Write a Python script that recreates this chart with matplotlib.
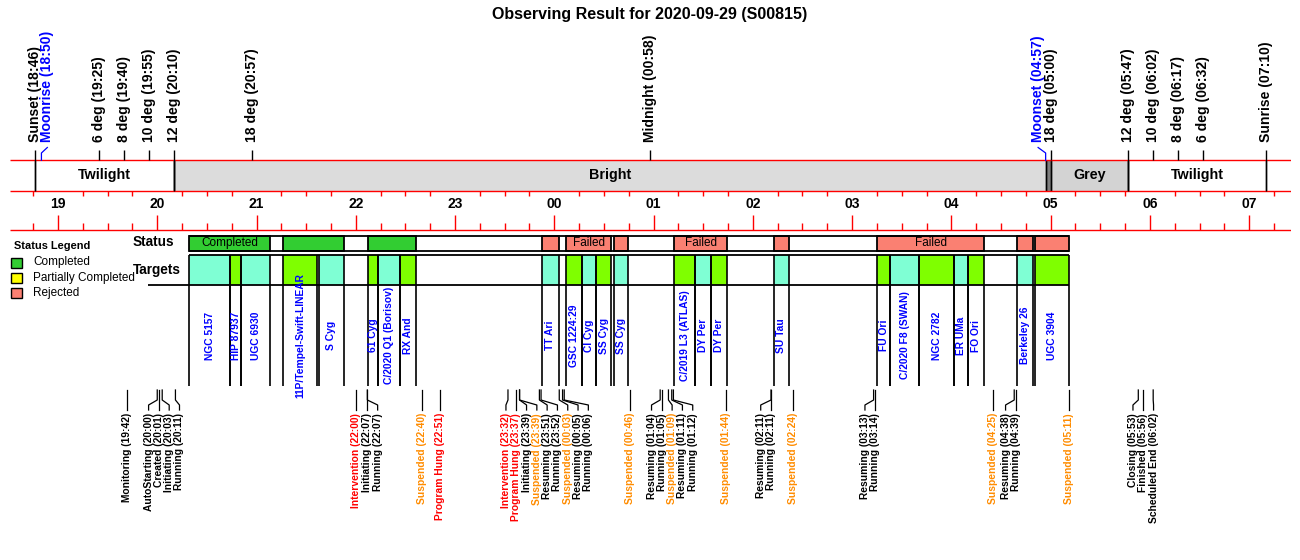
import matplotlib
matplotlib.use("Agg")
import matplotlib.pyplot as plt
import matplotlib.font_manager as fm
import numpy as np

#### data
title = "Observing Result for 2020-09-29 (S00815)"

# sun / moon events above the band
sky_names = ["Sunset", "Moonrise", "6 deg", "8 deg", "10 deg", "12 deg", "18 deg", "Midnight",
             "Moonset", "18 deg", "12 deg", "10 deg", "8 deg", "6 deg", "Sunrise"]
sky_times = ["18:46", "18:50", "19:25", "19:40", "19:55", "20:10", "20:57", "00:58",
             "04:57", "05:00", "05:47", "06:02", "06:17", "06:32", "07:10"]

# sky brightness band
band_kinds = ["Twilight", "Bright", "Dark", "Grey", "Twilight"]
band_starts = ["18:46", "20:10", "04:57", "05:00", "05:47"]
band_ends = ["20:10", "04:57", "05:00", "05:47", "07:10"]

# observing blocks (status row)
status_starts = ["20:19.4", "21:16", "22:07.3", "23:52.5", "00:07.3", "00:36", "01:12.6",
                 "02:12.5", "03:15.1", "04:39.8", "04:50.7"]
status_ends = ["21:08", "21:52.7", "22:36.3", "00:02.8", "00:34.5", "00:44.5", "01:44.4",
               "02:21.9", "04:19.8", "04:49.1", "05:11.3"]
status_results = ["Completed", "Completed", "Completed", "Failed", "Failed", "Failed", "Failed",
                  "Failed", "Failed", "Failed", "Failed"]

# targets row
target_names = ["NGC 5157", "HIP 87937", "UGC 6930", "11P/Tempel-Swift-LINEAR", "S Cyg",
                "61 Cyg", "C/2020 Q1 (Borisov)", "RX And", "TT Ari", "GSC 1224:29", "CI Cyg",
                "SS Cyg", "SS Cyg", "C/2019 L3 (ATLAS)", "DY Per", "DY Per", "SU Tau",
                "FU Ori", "C/2020 F8 (SWAN)", "NGC 2782", "ER UMa", "FO Ori", "Berkeley 26",
                "UGC 3904"]
target_starts = ["20:19.4", "20:43.8", "20:50.9", "21:16", "21:37.9", "22:07.3", "22:13.5",
                 "22:26.6", "23:52.5", "00:07.3", "00:16.7", "00:25.4", "00:36", "01:12.6",
                 "01:25", "01:35", "02:12.5", "03:15.1", "03:23", "03:40.5", "04:01.7",
                 "04:10.1", "04:39.8", "04:50.7"]
target_ends = ["20:43.8", "20:50.9", "21:08", "21:36.7", "21:52.7", "22:13.5", "22:26.6",
               "22:36.3", "00:02.8", "00:16.7", "00:25.4", "00:34.5", "00:44.5", "01:25",
               "01:35", "01:44.4", "02:21.9", "03:23", "03:40.5", "04:01.7", "04:10.1",
               "04:19.8", "04:49.1", "05:11.3"]

# system log events (bottom)
event_names = ["Monitoring", "AutoStarting", "Created", "Initiating", "Running",
               "Intervention", "Initiating", "Running", "Suspended", "Program Hung",
               "Intervention", "Program Hung", "Initiating", "Suspended", "Resuming", "Running",
               "Suspended", "Resuming", "Running", "Suspended", "Resuming", "Running",
               "Suspended", "Resuming", "Running", "Suspended", "Resuming", "Running",
               "Suspended", "Resuming", "Running", "Suspended", "Resuming", "Running",
               "Suspended", "Closing", "Finished", "Scheduled End"]
event_times = ["19:42", "20:00", "20:01", "20:03", "20:11",
               "22:00", "22:07", "22:07", "22:40", "22:51",
               "23:32", "23:37", "23:39", "23:39", "23:51", "23:52",
               "00:03", "00:05", "00:06", "00:46", "01:04", "01:05",
               "01:09", "01:11", "01:12", "01:44", "02:11", "02:11",
               "02:24", "03:13", "03:14", "04:25", "04:38", "04:39",
               "05:11", "05:53", "05:56", "06:02"]

legend_items = ["Completed", "Partially Completed", "Rejected"]


def hrs(s):
    h, m = s.split(":")
    v = int(h) + float(m) / 60
    return v + 24 if v < 12 else v


def spread(xs, gap):
    # push overlapping labels apart, left one first if there is room
    pos = list(xs)
    for i in range(len(pos) - 1):
        if pos[i + 1] - pos[i] < gap:
            left = pos[i + 1] - gap
            if i == 0 or left - pos[i - 1] >= gap:
                pos[i] = left
            else:
                pos[i + 1] = pos[i] + gap
    return pos


#### style
names = {f.name for f in fm.fontManager.ttflist}
BASE = "Liberation Sans" if "Liberation Sans" in names else "DejaVu Sans"
NARROW = "Liberation Sans Narrow" if "Liberation Sans Narrow" in names else BASE
small_size = 8.8 if NARROW != BASE else 7.4
plt.rcParams["font.family"] = [BASE, "DejaVu Sans"]

band_color = {"Twilight": "white", "Bright": "#DCDCDC", "Dark": "#7F7F7F", "Grey": "#D3D3D3"}
result_color = {"Completed": "#32CD32", "Partially Completed": "#FFFF00",
                "Failed": "#FA8072", "Rejected": "#FA8072"}
target_colors = ["#7FFFD4", "#7FFF00"]
event_color = {"Intervention": "#FF0000", "Program Hung": "#FF0000", "Suspended": "#FF8C00"}

# vertical layout (pixels from top)
Y_TICK_TOP, Y_BAND_TOP, Y_BAND_BOT, Y_AXIS_BOT = 150, 160.3, 190.7, 230
Y_STAT = (235.5, 250.5)
Y_TARG = (255.3, 285.3, 385.5)
Y_EVT = (390, 400, 405, 410)

fig = plt.figure(figsize=(13, 5.6), dpi=100)
lay = fig.add_axes([0, 0, 1, 1])
lay.set_xlim(0, 1300)
lay.set_ylim(560, 0)
lay.axis("off")

sun_set, sun_rise = hrs(sky_times[0]), hrs(sky_times[-1])
t_lo, t_hi = sun_set - 0.25, sun_rise + 0.25
ax = fig.add_axes([10 / 1300, 0, 1280.5 / 1300, 1])
ax.set_xlim(t_lo, t_hi)
ax.set_ylim(560, 0)
ax.axis("off")
px_per_hr = 1280.5 / (t_hi - t_lo)

fig.text(0.5, 1 - 15 / 560, title, ha="center", va="center", fontsize=11.5, fontweight="bold")

renderer = fig.canvas.get_renderer()


def fit_label(x0, x1, y, text, **kw):
    t = ax.text((x0 + x1) / 2, y, text, ha="center", va="center", **kw)
    w = t.get_window_extent(renderer).width
    if w + 8 > (x1 - x0) * px_per_hr:
        t.remove()


#### band
for kind, s, e in zip(band_kinds, band_starts, band_ends):
    x0, x1 = hrs(s), hrs(e)
    ax.fill_between([x0, x1], Y_BAND_TOP, Y_BAND_BOT, color=band_color[kind], lw=0)
    ax.vlines([x0, x1], Y_BAND_TOP, Y_BAND_BOT, color="black", lw=1)
    fit_label(x0, x1, 175, kind, fontsize=10.3, fontweight="bold")

for y in (Y_BAND_TOP, Y_BAND_BOT, Y_AXIS_BOT):
    ax.hlines(y, t_lo, t_hi, color="red", lw=1)

quarters = np.arange(np.ceil(t_lo * 4) / 4, t_hi, 0.25)
for q in quarters:
    if abs(q - round(q)) < 1e-6:
        ax.vlines(q, 215, Y_AXIS_BOT, color="red", lw=1)
        ax.text(q, 204.5, "%02d" % (round(q) % 24), ha="center", va="center",
                fontsize=10, fontweight="bold")
    else:
        ax.vlines(q, Y_BAND_BOT, 195.5, color="red", lw=1)
        ax.vlines(q, 222.7, Y_AXIS_BOT, color="red", lw=1)

#### sky events
sky_x = [hrs(t) for t in sky_times]
moon_gap = 12.5 / px_per_hr
for name, t, x in zip(sky_names, sky_times, sky_x):
    is_moon = name.startswith("Moon")
    lab = x
    if is_moon:
        others = [o for n, o in zip(sky_names, sky_x) if not n.startswith("Moon")]
        near = min(others, key=lambda o: abs(o - x))
        if abs(near - x) < moon_gap:
            lab = near + moon_gap if x >= near else near - moon_gap
        ax.plot([x, x, lab], [Y_BAND_TOP, 153, 147.5], color="#0000FF", lw=0.9)
        col = "#0000FF"
    else:
        bottom = Y_BAND_BOT if name in ("Sunset", "Sunrise", "12 deg") else Y_BAND_TOP
        ax.vlines(x, Y_TICK_TOP, bottom, color="black", lw=1)
        col = "black"
    ax.text(lab, 142, "%s (%s)" % (name, t), rotation=90, ha="center", va="bottom",
            fontsize=10.1, fontweight="bold", color=col)

#### status row
s0 = min(hrs(s) for s in status_starts)
s1 = max(hrs(e) for e in status_ends)
for s, e, res in zip(status_starts, status_ends, status_results):
    x0, x1 = hrs(s), hrs(e)
    ax.bar(x0, Y_STAT[1] - Y_STAT[0], width=x1 - x0, bottom=Y_STAT[0], align="edge",
           color=result_color[res], edgecolor="black", lw=1.3)
    fit_label(x0, x1, 243, res, fontsize=8.5)
ax.hlines(list(Y_STAT), s0, s1, color="black", lw=1.3)

#### targets row
tx0 = [hrs(s) for s in target_starts]
tx1 = [hrs(e) for e in target_ends]
for i, (name, x0, x1) in enumerate(zip(target_names, tx0, tx1)):
    ax.bar(x0, Y_TARG[1] - Y_TARG[0], width=x1 - x0, bottom=Y_TARG[0], align="edge",
           color=target_colors[i % 2], lw=0)
    ax.vlines([x0, x1], Y_TARG[0], Y_TARG[2], color="black", lw=1.2)
    ax.text((x0 + x1) / 2, 335.5, name, rotation=90, ha="center", va="center",
            fontsize=small_size, fontweight="bold", color="#0000FF", family=[NARROW, BASE])
ax.hlines(Y_TARG[0], min(tx0), max(tx1), color="black", lw=1.3)
ax.hlines(Y_TARG[1], min(tx0) - 41 / px_per_hr, max(tx1), color="black", lw=1.3)

lay.text(132.5, 242, "Status", ha="left", va="center", fontsize=9.8, fontweight="bold")
lay.text(132.5, 270, "Targets", ha="left", va="center", fontsize=9.8, fontweight="bold")

#### log events
ex = [hrs(t) for t in event_times]
lx = spread(ex, 10.3 / px_per_hr)
for name, t, x, lab in zip(event_names, event_times, ex, lx):
    ax.plot([x, x, lab, lab], list(Y_EVT), color="black", lw=0.9)
    ax.text(lab, 413, "%s (%s)" % (name, t), rotation=90, ha="center", va="top",
            fontsize=small_size, fontweight="bold", color=event_color.get(name, "black"),
            family=[NARROW, BASE])

#### legend
lay.text(14, 246, "Status Legend", ha="left", va="center", fontsize=7.9, fontweight="bold")
for i, item in enumerate(legend_items):
    y = 262.5 + i * 15.3
    lay.add_patch(plt.Rectangle((11.3, y - 5), 10.4, 10, facecolor=result_color[item],
                                edgecolor="black", lw=1))
    lay.text(33.3, y, item, ha="left", va="center", fontsize=8.5)

fig.savefig("out.png", dpi=100)
